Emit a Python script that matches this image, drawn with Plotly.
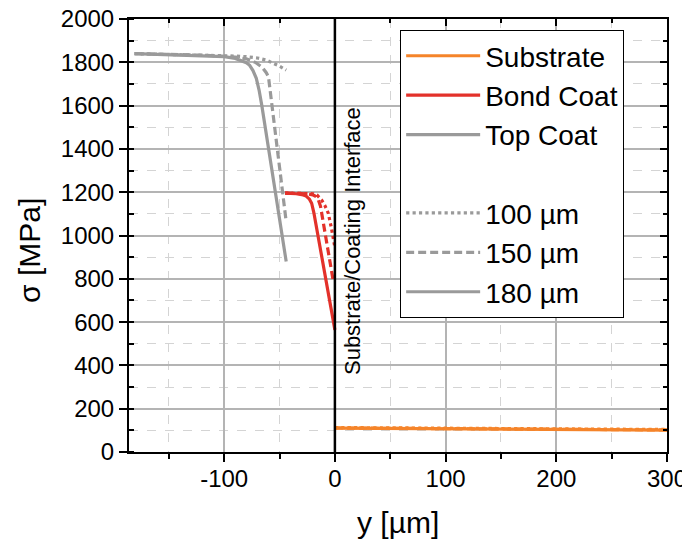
import plotly.graph_objects as go

# ---------------- data ----------------
# Top coat (grey)
tc180_x = [-181, -150, -120, -100, -90, -84, -80, -77, -74, -71, -68.5, -66, -60, -55, -50, -44]
tc180_y = [1840, 1836, 1832, 1826, 1818, 1808, 1798, 1786, 1762, 1726, 1672, 1600, 1405, 1245, 1085, 880]
tc150_x = [-181, -150, -120, -100, -90, -80, -72, -66, -62, -60, -56, -52, -48, -44]
tc150_y = [1840, 1837, 1833, 1828, 1824, 1816, 1800, 1778, 1752, 1733, 1565, 1397, 1229, 1064]
tc100_x = [-181, -150, -120, -100, -90, -80, -70, -62, -56, -50, -44]
tc100_y = [1840, 1837, 1834, 1831, 1829, 1826, 1820, 1810, 1797, 1782, 1764]

# Bond coat (red)
bc180_x = [-45, -40, -35, -30, -26, -23, -21, -19, -15, -10, -5, 0]
bc180_y = [1196, 1195, 1193, 1189, 1182, 1168, 1149, 1105, 990, 845, 705, 564]
bc150_x = [-45, -40, -35, -30, -25, -20, -17, -15, -13, -9, -5, -1.5]
bc150_y = [1196, 1196, 1195, 1194, 1192, 1188, 1180, 1165, 1135, 1020, 905, 790]
bc100_x = [-45, -35, -25, -20, -16, -12, -9, -6, -3, 0]
bc100_y = [1196, 1196, 1195, 1193, 1186, 1164, 1138, 1103, 1030, 945]

# Substrate (orange)
sub_x = [0, 50, 100, 150, 200, 250, 300]
sub180_y = [110, 109, 107, 106, 104, 103, 101]
sub150_y = [111, 110, 108, 107, 105, 104, 102]
sub100_y = [113, 112, 110, 109, 107, 106, 104]

interface_x = 0
material_names = ["Substrate", "Bond Coat", "Top Coat"]
thickness_names = ["100 µm", "150 µm", "180 µm"]

x_tickvals = [-100, 0, 100, 200, 300]
x_ticktext = ["-100", "0", "100", "200", "300"]
y_tickvals = [0, 200, 400, 600, 800, 1000, 1200, 1400, 1600, 1800, 2000]

# ---------------- styles ----------------
ORANGE = "#f5842a"
RED = "#e3312a"
GREY = "#9a9a9a"
FONT = "Liberation Sans, Arial, sans-serif"
LW = 3.2
DASH = {"100": "dot", "150": "8px,4px", "180": "solid"}

fig = go.Figure()

def add(x, y, color, thick):
    fig.add_trace(go.Scatter(x=x, y=y, mode="lines", showlegend=False,
                             line=dict(color=color, width=LW, dash=DASH[thick]),
                             hoverinfo="skip"))

add(tc180_x, tc180_y, GREY, "180")
add(tc150_x, tc150_y, GREY, "150")
add(tc100_x, tc100_y, GREY, "100")
add(bc180_x, bc180_y, RED, "180")
add(bc150_x, bc150_y, RED, "150")
add(bc100_x, bc100_y, RED, "100")
add(sub_x, sub180_y, ORANGE, "180")
add(sub_x, sub150_y, ORANGE, "150")
add(sub_x, sub100_y, ORANGE, "100")

# legend entries
for name, col in zip(material_names, [ORANGE, RED, GREY]):
    fig.add_trace(go.Scatter(x=[None], y=[None], mode="lines", name=name,
                             legendgroup="mat", line=dict(color=col, width=LW)))
for name, th in zip(thickness_names, ["100", "150", "180"]):
    fig.add_trace(go.Scatter(x=[None], y=[None], mode="lines", name=name,
                             legendgroup="th",
                             line=dict(color=GREY, width=LW, dash=DASH[th])))

# helper trace for the mirrored (top/right) axes
fig.add_trace(go.Scatter(x=[None], y=[None], xaxis="x2", yaxis="y2",
                         showlegend=False, hoverinfo="skip"))

# interface line
fig.add_shape(type="line", x0=interface_x, x1=interface_x, y0=0, y1=1,
              xref="x", yref="paper", line=dict(color="black", width=2.5))
fig.add_annotation(x=interface_x, y=0.487, xref="x", yref="paper",
                   xanchor="center", yanchor="middle",
                   text="Substrate/Coating Interface", textangle=-90,
                   showarrow=False, xshift=17,
                   font=dict(family=FONT, size=22, color="black"))

# axis titles
fig.add_annotation(x=-0.186, y=0.4665, xref="paper", yref="paper",
                   xanchor="center", yanchor="middle",
                   text="σ [MPa]", textangle=-90, showarrow=False,
                   font=dict(family=FONT, size=30, color="black"))
fig.add_annotation(x=0.5, y=-0.162, xref="paper", yref="paper",
                   xanchor="center", yanchor="middle",
                   text="y [µm]", showarrow=False,
                   font=dict(family=FONT, size=30, color="black"))

axis_common = dict(
    showline=True, linecolor="black", linewidth=2,
    ticks="outside", ticklen=8, tickwidth=1.5, tickcolor="black",
    showgrid=True, gridcolor="#b4b4b4", gridwidth=1.5,
    zeroline=False, automargin=False, ticklabeloverflow="allow",
    tickfont=dict(family=FONT, size=24, color="black"),
)

fig.update_layout(
    xaxis=dict(range=[-186, 300], tickvals=x_tickvals, ticktext=x_ticktext,
               ticklabelstandoff=-4,
               minor=dict(dtick=50, tick0=0, showgrid=True, gridcolor="#d4d4d4",
                          griddash="dash", gridwidth=1,
                          ticks="outside", ticklen=5, tickcolor="black"),
               **axis_common),
    yaxis=dict(range=[0, 2000], tickvals=y_tickvals,
               minor=dict(dtick=100, tick0=0, showgrid=True, gridcolor="#d4d4d4",
                          griddash="dash", gridwidth=1,
                          ticks="inside", ticklen=5, tickcolor="black"),
               **axis_common),
    xaxis2=dict(overlaying="x", side="top", matches="x", range=[-186, 300],
                tickvals=x_tickvals, showticklabels=False, showgrid=False,
                showline=True, linecolor="black", linewidth=2,
                ticks="inside", ticklen=7, tickwidth=1.5, tickcolor="black",
                minor=dict(dtick=50, tick0=0, ticks="inside", ticklen=4,
                           tickcolor="black", showgrid=False),
                zeroline=False, automargin=False),
    yaxis2=dict(overlaying="y", side="right", matches="y", range=[0, 2000],
                tickvals=y_tickvals, showticklabels=False, showgrid=False,
                showline=True, linecolor="black", linewidth=2,
                ticks="inside", ticklen=7, tickwidth=1.5, tickcolor="black",
                minor=dict(dtick=100, tick0=0, ticks="inside", ticklen=4,
                           tickcolor="black", showgrid=False),
                zeroline=False, automargin=False),
    width=690, height=543,
    margin=dict(l=121, r=31, t=11, b=99, autoexpand=False),
    paper_bgcolor="white", plot_bgcolor="white",
    font=dict(family=FONT, color="black"),
    legend=dict(x=0.504, y=0.9745, xanchor="left", yanchor="top",
                bgcolor="white", bordercolor="black", borderwidth=1,
                font=dict(family=FONT, size=28, color="black"),
                traceorder="grouped", tracegroupgap=39, itemwidth=74),
)

fig.write_html("out.html")
